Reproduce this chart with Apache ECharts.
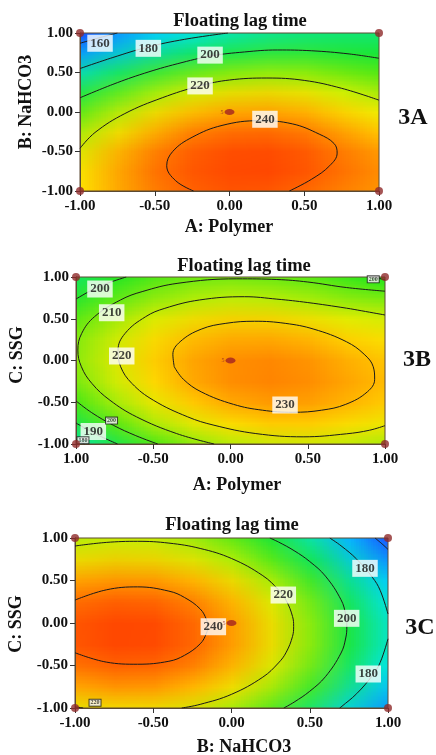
<!DOCTYPE html>
<html><head><meta charset="utf-8">
<script src="https://cdn.jsdelivr.net/npm/echarts@6/dist/echarts.min.js"></script>
<style>
html,body{margin:0;padding:0;background:#fff;}
#wrap{position:relative;width:436px;height:755px;overflow:hidden;background:#fff;}
.clip{position:absolute;overflow:hidden;}
.heat{position:absolute;left:0;top:0;transform-origin:0 0;image-rendering:auto;}
#main{position:absolute;left:0;top:0;width:436px;height:755px;}
</style></head><body>
<div id="wrap">
<div class="clip" id="clip0"><div class="heat" id="heat0"></div></div>
<div class="clip" id="clip1"><div class="heat" id="heat1"></div></div>
<div class="clip" id="clip2"><div class="heat" id="heat2"></div></div>
<div id="main"></div>
</div>
<script>
// ================= DATA =================
const gridX = [-1, -0.75, -0.5, -0.25, 0, 0.25, 0.5, 0.75, 1];
const gridY = [-1, -0.75, -0.5, -0.25, 0, 0.25, 0.5, 0.75, 1];

// Floating lag time surfaces, rows from y=-1 (bottom) to y=1 (top)
const surface3A = [
  [224.0, 231.0, 236.5, 240.0, 241.8, 241.8, 239.3, 237.0, 234.0],
  [223.7, 231.0, 238.0, 241.5, 243.5, 244.0, 242.5, 239.0, 235.5],
  [220.7, 231.5, 238.5, 242.0, 244.0, 244.5, 243.5, 239.8, 235.0],
  [215.3, 225.1, 232.6, 238.8, 241.3, 242.0, 240.5, 236.5, 230.5],
  [207.3, 217.9, 226.1, 231.9, 235.2, 236.1, 234.6, 230.7, 224.4],
  [196.8, 208.0, 216.7, 222.9, 226.6, 227.9, 226.7, 223.0, 216.8],
  [183.9, 195.3, 204.2, 210.8, 215.0, 216.7, 216.1, 213.0, 207.6],
  [168.4, 179.7, 188.9, 195.7, 200.4, 202.8, 203.1, 201.5, 198.5],
  [150.5, 161.4, 170.4, 177.6, 182.8, 186.5, 188.5, 189.5, 190.0]
];
const surface3B = [
  [177.2, 189.2, 199.0, 206.6, 212.0, 215.2, 216.3, 215.1, 211.7],
  [189.9, 201.5, 210.8, 217.9, 222.8, 225.5, 226.0, 224.3, 220.9],
  [199.5, 210.5, 219.3, 226.0, 230.4, 232.6, 232.6, 230.4, 226.9],
  [205.9, 216.4, 224.7, 230.8, 234.8, 236.5, 236.0, 233.3, 229.7],
  [209.1, 219.1, 226.9, 232.5, 236.0, 237.2, 236.2, 233.0, 229.4],
  [209.1, 218.6, 225.9, 231.1, 234.0, 234.7, 233.4, 230.0, 226.5],
  [205.9, 214.9, 221.8, 226.4, 228.8, 229.0, 227.4, 224.1, 221.1],
  [199.6, 208.1, 214.4, 218.5, 220.4, 220.1, 218.3, 215.4, 213.1],
  [190.0, 198.0, 203.8, 207.5, 208.9, 208.1, 206.5, 203.8, 199.0]
];
const surface3C = [
  [219.4, 221.6, 221.8, 218.9, 212.9, 203.8, 191.5, 176.1, 161.0],
  [229.8, 232.1, 232.2, 229.4, 223.4, 214.2, 202.0, 186.5, 167.9],
  [237.1, 239.4, 239.5, 236.7, 230.7, 221.5, 209.3, 193.8, 175.2],
  [241.3, 243.6, 243.7, 240.9, 234.9, 225.7, 213.5, 198.0, 179.4],
  [242.4, 244.6, 244.8, 241.9, 235.9, 226.8, 214.5, 199.1, 180.5],
  [240.3, 242.6, 242.7, 239.9, 233.9, 224.7, 212.5, 197.0, 178.4],
  [235.1, 237.4, 237.5, 234.7, 228.7, 219.5, 207.3, 191.8, 173.2],
  [226.8, 229.1, 229.2, 226.4, 220.4, 211.2, 199.0, 183.5, 164.9],
  [215.4, 217.6, 217.8, 214.9, 208.9, 199.8, 187.5, 172.1, 153.5]
];

// contour lines [x, y]
const contour3A_160 = [[-1,0.87],[-0.9,0.925],[-0.8,0.975],[-0.75,1]];
const contour3A_180 = [[-1,0.55],[-0.78,0.69],[-0.55,0.82],[-0.3,0.92],[-0.01,1]];
const contour3A_200 = [[-1,0.18],[-0.78,0.35],[-0.57,0.49],[-0.35,0.61],[-0.12,0.71],[0.1,0.76],[0.32,0.785],[0.55,0.775],[0.8,0.735],[1,0.68]];
const contour3A_220 = [[-1,-0.46],[-0.9,-0.26],[-0.7,-0.02],[-0.45,0.18],[-0.2,0.33],[0,0.405],[0.25,0.43],[0.5,0.4],[0.75,0.3],[1,0.15]];
const contour3A_240 = [[-0.24,-1],[-0.36,-0.87],[-0.42,-0.68],[-0.38,-0.5],[-0.25,-0.32],[-0.05,-0.17],[0.2,-0.11],[0.42,-0.15],[0.6,-0.28],[0.7,-0.4],[0.72,-0.52],[0.67,-0.68],[0.55,-0.85],[0.4,-1]];

const contour3B_180 = [[-1,-0.95],[-0.945,-1]];
const contour3B_190 = [[-1,-0.749],[-0.903,-0.85],[-0.822,-0.925],[-0.731,-1]];
const contour3B_200a = [[-1,0.736],[-0.885,0.856],[-0.797,0.925],[-0.675,1]];
const contour3B_200b = [[0.93,1],[1,0.965]];
const contour3B_200c = [[-1,-0.484],[-0.898,-0.625],[-0.759,-0.775],[-0.613,-0.9],[-0.471,-1]];
const contour3B_210 = [[1,0.83],[0.75,0.874],[0.5,0.94],[0.3,0.97],[0.041,0.978],[-0.34,0.925],[-0.572,0.825],[-0.712,0.725],[-0.88,0.525],[-0.963,0.325],[-0.988,0.125],[-0.965,-0.075],[-0.897,-0.275],[-0.781,-0.475],[-0.608,-0.675],[-0.349,-0.875],[-0.106,-1]];
const contour3B_220 = [[1,0.545],[0.85,0.595],[0.75,0.627],[0.5,0.694],[0.3,0.735],[0.09,0.764],[-0.2,0.725],[-0.425,0.625],[-0.549,0.525],[-0.682,0.325],[-0.728,0.125],[-0.711,-0.075],[-0.638,-0.275],[-0.5,-0.475],[-0.277,-0.675],[-0.107,-0.775],[0.164,-0.875],[0.47,-0.914],[0.75,-0.878],[0.9,-0.835],[1,-0.78]];
const contour3B_230 = [[-0.364,-0.075],[-0.305,-0.225],[-0.19,-0.375],[0.019,-0.525],[0.206,-0.595],[0.404,-0.62],[0.59,-0.595],[0.746,-0.525],[0.886,-0.375],[0.933,-0.225],[0.924,-0.075],[0.865,0.075],[0.75,0.225],[0.54,0.375],[0.354,0.445],[0.156,0.47],[-0.03,0.445],[-0.19,0.375],[-0.326,0.225],[-0.373,0.075],[-0.364,-0.075]];

const contour3C_160 = [[0.917,1],[0.96,0.934],[1,0.866]];
const contour3C_180a = [[0.628,1],[0.7,0.908],[0.8,0.751],[0.9,0.538],[0.95,0.384],[1,0.106]];
const contour3C_180b = [[1,-0.186],[0.95,-0.464],[0.9,-0.618],[0.8,-0.831],[0.7,-0.988],[0.691,-1]];
const contour3C_200 = [[0.245,1],[0.3,0.953],[0.4,0.851],[0.5,0.723],[0.6,0.552],[0.7,0.273],[0.73,0.096],[0.737,-0.04],[0.73,-0.176],[0.7,-0.353],[0.6,-0.632],[0.5,-0.803],[0.4,-0.931],[0.334,-1]];
const contour3C_220a = [[-1,0.906],[-0.8,0.948],[-0.6,0.961],[-0.4,0.94],[-0.2,0.877],[0,0.759],[0.2,0.557],[0.3,0.39],[0.35,0.263],[0.39,0.077],[0.397,-0.04],[0.39,-0.157],[0.35,-0.343],[0.3,-0.47],[0.2,-0.637],[0,-0.839],[-0.2,-0.957],[-0.318,-1]];
const contour3C_220b = [[-1,-0.986],[-0.948,-1]];
const contour3C_240 = [[-1,0.27],[-0.8,0.39],[-0.6,0.425],[-0.4,0.375],[-0.3,0.3],[-0.2,0.165],[-0.16,0.04],[-0.153,-0.04],[-0.16,-0.12],[-0.2,-0.245],[-0.3,-0.38],[-0.4,-0.45],[-0.6,-0.485],[-0.8,-0.46],[-1,-0.35]];

// contour labels [x, y, text]
const labels3A = [[-0.866,0.87,'160'],[-0.543,0.806,'180'],[-0.13,0.72,'200'],[-0.197,0.33,'220'],[0.237,-0.092,'240']];
const labels3B = [[-0.845,0.856,'200'],[-0.769,0.572,'210'],[-0.704,0.054,'220'],[0.353,-0.533,'230'],[-0.888,-0.85,'190']];
const smallLabels3B = [[0.924,0.972,'200'],[-0.77,-0.72,'200'],[-0.955,-0.955,'180']];
const labels3C = [[0.853,0.643,'180'],[0.331,0.329,'220'],[0.736,0.055,'200'],[-0.116,-0.044,'240'],[0.874,-0.6,'180']];
const smallLabels3C = [[-0.872,-0.938,'220']];

// design points
const designPoints = [[-1,-1],[1,-1],[-1,1],[1,1]];
const centerPoint = [[0,0,'5']];

// ticks
const tickValues = [-1, -0.5, 0, 0.5, 1];
const tickLabels = ['-1.00','-0.50','0.00','0.50','1.00'];
const tickLabels3Bx = ['1.00','-0.50','0.00','0.50','1.00'];

const chartTitle = 'Floating lag time';
const xNames = ['A: Polymer','A: Polymer','B: NaHCO3'];
const yNames = ['B: NaHCO3','C: SSG','C: SSG'];
const panelTags = ['3A','3B','3C'];

// ================= LAYOUT / STYLE =================
const FONT = '"Liberation Serif","Times New Roman",serif';
const frameColor = '#5c4a32';
const colorRamp = ['#1e3cff','#00e5ff','#1ee61e','#fff000','#ff2800'];
const colorMin = 150, colorMax = 248;
const layout = [
  {left:80, top:33, width:299, height:158, title:[240,21], xName:[229,227], yName:[26,102], tag:[413,118]},
  {left:76, top:277, width:309, height:167, title:[244,266], xName:[237,485], yName:[17,355], tag:[417,360]},
  {left:75, top:538, width:313, height:170, title:[232,525], xName:[244,747], yName:[16,624], tag:[420,628]}
];
const surfaces = [surface3A, surface3B, surface3C];
const contours = [
  [contour3A_160, contour3A_180, contour3A_200, contour3A_220, contour3A_240],
  [contour3B_180, contour3B_190, contour3B_200a, contour3B_200b, contour3B_200c, contour3B_210, contour3B_220, contour3B_230],
  [contour3C_160, contour3C_180a, contour3C_180b, contour3C_200, contour3C_220a, contour3C_220b, contour3C_240]
];
const bigLabels = [labels3A, labels3B, labels3C];
const smallLabels = [[], smallLabels3B, smallLabels3C];
const xTickSets = [tickLabels, tickLabels3Bx, tickLabels];

// ---- colour fields: heatmap of the read grid, drawn by ECharts at 1px per cell, then scaled ----
surfaces.forEach((surf, i) => {
  const p = layout[i];
  const clip = document.getElementById('clip' + i);
  clip.style.left = p.left + 'px'; clip.style.top = p.top + 'px';
  clip.style.width = p.width + 'px'; clip.style.height = p.height + 'px';
  const el = document.getElementById('heat' + i);
  el.style.width = gridX.length + 'px'; el.style.height = gridY.length + 'px';
  const cw = p.width / (gridX.length - 1), ch = p.height / (gridY.length - 1);
  el.style.transform = `translate(${-cw/2}px,${-ch/2}px) scale(${cw},${ch})`;
  const cells = [];
  surf.forEach((row, yi) => row.forEach((v, xi) => cells.push([xi, yi, v])));
  const hc = echarts.init(el, null, {renderer:'canvas', width:gridX.length, height:gridY.length, devicePixelRatio:1});
  hc.setOption({
    animation:false,
    grid:{left:0, right:0, top:0, bottom:0, outerBoundsMode:'none'},
    xAxis:{type:'category', data:gridX, show:false},
    yAxis:{type:'category', data:gridY, show:false},
    visualMap:{show:false, type:'continuous', min:colorMin, max:colorMax, dimension:2, inRange:{color:colorRamp}},
    series:[{type:'heatmap', data:cells, itemStyle:{borderWidth:0}, progressive:0, silent:true}]
  });
});

// ---- main chart: axes, contours, labels, points ----
const chart = echarts.init(document.getElementById('main'), null, {renderer:'canvas'});
const fmt = (labels) => (v) => { const k = tickValues.findIndex(t => Math.abs(t - v) < 1e-6); return k >= 0 ? labels[k] : ''; };
const series = [];
layout.forEach((p, i) => {
  contours[i].forEach(c => series.push({
    type:'line', xAxisIndex:i, yAxisIndex:i, data:c, smooth:0.4, symbol:'none', silent:true, z:3,
    lineStyle:{color:'#1a1a1a', width:1}
  }));
  series.push({
    type:'scatter', xAxisIndex:i, yAxisIndex:i, silent:true, z:6, symbolSize:1,
    itemStyle:{color:'transparent'},
    data: bigLabels[i].map(l => ({value:[l[0], l[1]], name:l[2]})),
    label:{show:true, position:'inside', formatter:(q)=>q.name, backgroundColor:'#fff', padding:[2,3],
      fontFamily:FONT, fontWeight:'bold', fontSize:13, color:'#111'}
  });
  if (smallLabels[i].length) series.push({
    type:'scatter', xAxisIndex:i, yAxisIndex:i, silent:true, z:6, symbolSize:1,
    itemStyle:{color:'transparent'},
    data: smallLabels[i].map(l => ({value:[l[0], l[1]], name:l[2]})),
    label:{show:true, position:'inside', formatter:(q)=>q.name, backgroundColor:'#fff', borderColor:'#222', borderWidth:1,
      padding:[0,1], fontFamily:FONT, fontWeight:'bold', fontSize:6, color:'#111'}
  });
  series.push({
    type:'scatter', xAxisIndex:i, yAxisIndex:i, silent:true, z:7, clip:false, symbolSize:8,
    itemStyle:{color:'#8e2b2b'}, data:designPoints
  });
  series.push({
    type:'scatter', xAxisIndex:i, yAxisIndex:i, silent:true, z:7, clip:false, symbolSize:[10,6],
    itemStyle:{color:'#a22222'}, data:centerPoint.map(c => ({value:[c[0], c[1]], name:c[2]})),
    label:{show:true, position:'left', distance:1, formatter:(q)=>q.name, fontFamily:FONT, fontSize:6, color:'#8e2b2b'}
  });
});

const graphics = [];
layout.forEach((p, i) => {
  graphics.push({type:'text', x:p.title[0], y:p.title[1], silent:true,
    style:{text:chartTitle, font:`bold 18.5px ${FONT}`, fill:'#111', align:'center', verticalAlign:'middle', textAlign:'center', textVerticalAlign:'middle'}});
  graphics.push({type:'text', x:p.xName[0], y:p.xName[1], silent:true,
    style:{text:xNames[i], font:`bold 18px ${FONT}`, fill:'#111', align:'center', verticalAlign:'middle', textAlign:'center', textVerticalAlign:'middle'}});
  graphics.push({type:'text', x:p.yName[0], y:p.yName[1], rotation:Math.PI/2, silent:true,
    style:{text:yNames[i], font:`bold 18px ${FONT}`, fill:'#111', align:'center', verticalAlign:'middle', textAlign:'center', textVerticalAlign:'middle'}});
  graphics.push({type:'text', x:p.tag[0], y:p.tag[1], silent:true,
    style:{text:panelTags[i], font:`bold 24px ${FONT}`, fill:'#111', align:'center', verticalAlign:'middle', textAlign:'center', textVerticalAlign:'middle'}});
});

chart.setOption({
  animation:false,
  backgroundColor:'transparent',
  grid: layout.map(p => ({left:p.left, top:p.top, width:p.width, height:p.height, show:true,
    borderColor:frameColor, borderWidth:1, backgroundColor:'transparent', containLabel:false, outerBoundsMode:'none'})),
  xAxis: layout.map((p, i) => ({gridIndex:i, type:'value', min:-1, max:1, interval:0.5,
    axisLine:{show:true, onZero:false, lineStyle:{color:frameColor, width:1}},
    axisTick:{show:true, inside:false, length:5, lineStyle:{color:'#333', width:1}},
    splitLine:{show:false},
    axisLabel:{margin:8, fontFamily:FONT, fontWeight:'bold', fontSize:15, color:'#111', formatter:fmt(xTickSets[i])}})),
  yAxis: layout.map((p, i) => ({gridIndex:i, type:'value', min:-1, max:1, interval:0.5,
    axisLine:{show:true, onZero:false, lineStyle:{color:frameColor, width:1}},
    axisTick:{show:true, inside:false, length:5, lineStyle:{color:'#333', width:1}},
    splitLine:{show:false},
    axisLabel:{margin:7, fontFamily:FONT, fontWeight:'bold', fontSize:15, color:'#111', formatter:fmt(tickLabels)}})),
  series: series,
  graphic: graphics
});
</script>
</body></html>
